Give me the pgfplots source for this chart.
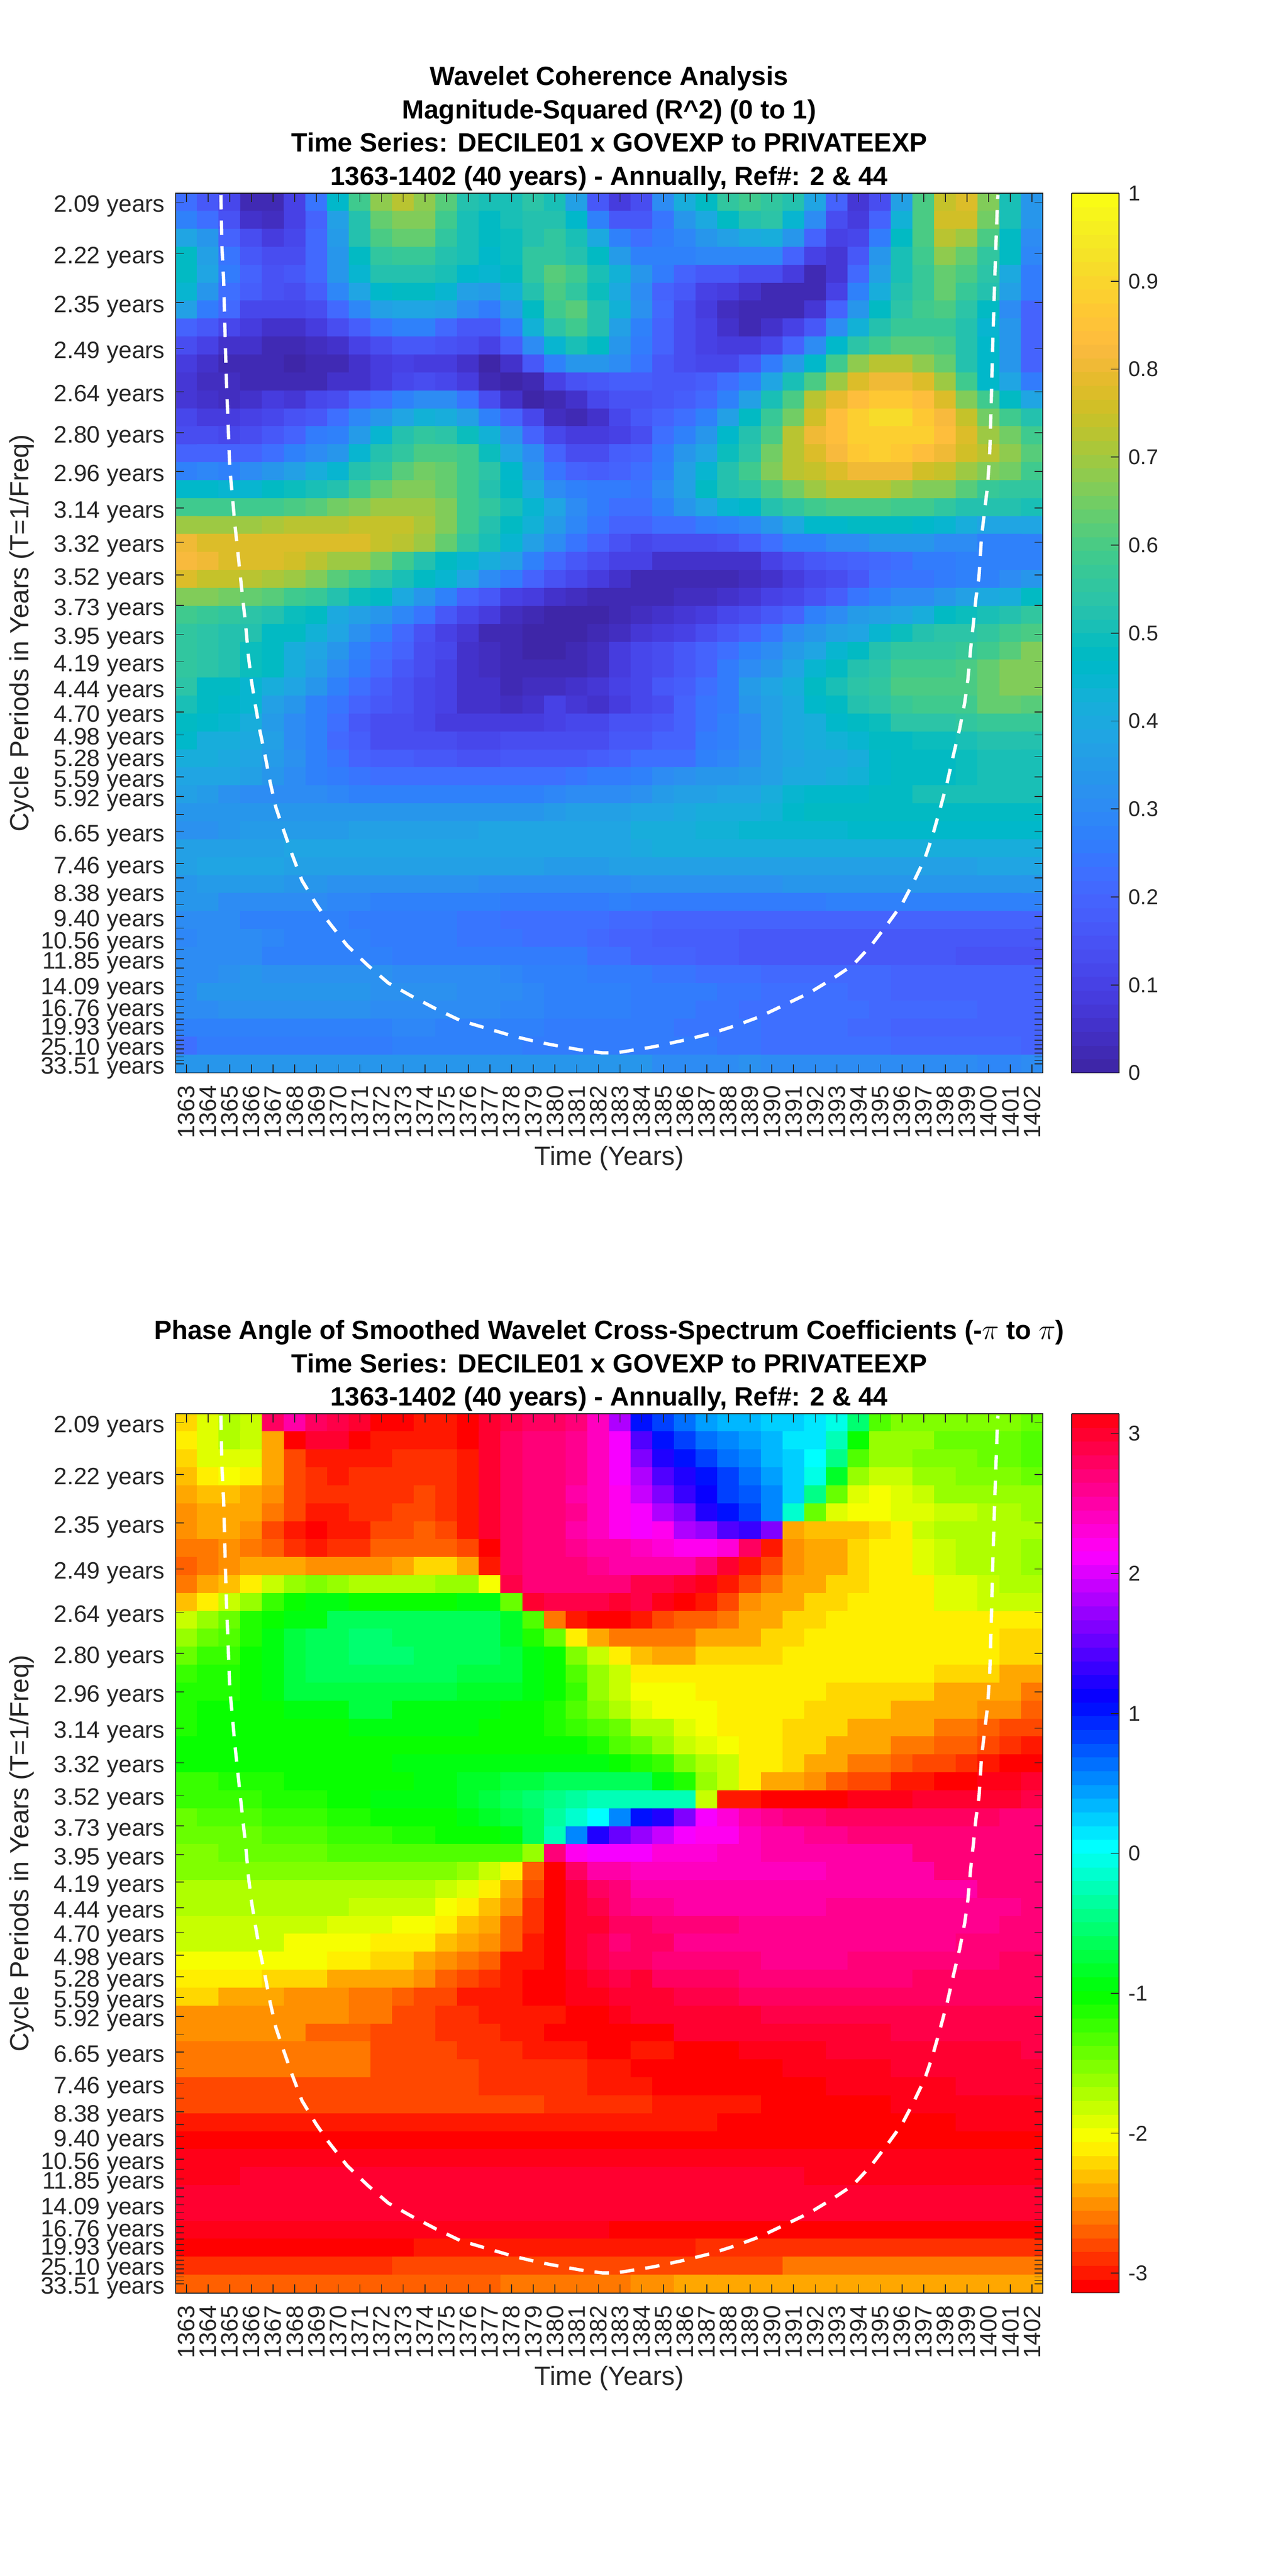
\documentclass[border=0pt]{standalone}
\usepackage{fontspec}
\setmainfont{Liberation Sans}
\usepackage{pgfplots}
\usepackage{pgfplotstable}
\pgfplotsset{compat=1.18}
\definecolor{mg}{gray}{0.15}
\pgfplotsset{colormap={matparula}{
rgb=(0.2422,0.1504,0.6603) rgb=(0.2504,0.1650,0.7076) rgb=(0.2578,0.1818,0.7511) rgb=(0.2647,0.1978,0.7952)
rgb=(0.2706,0.2147,0.8364) rgb=(0.2751,0.2342,0.8710) rgb=(0.2783,0.2559,0.8991) rgb=(0.2803,0.2782,0.9221)
rgb=(0.2813,0.3006,0.9414) rgb=(0.2810,0.3228,0.9579) rgb=(0.2795,0.3447,0.9717) rgb=(0.2760,0.3667,0.9829)
rgb=(0.2699,0.3892,0.9906) rgb=(0.2602,0.4123,0.9952) rgb=(0.2440,0.4358,0.9988) rgb=(0.2206,0.4603,0.9973)
rgb=(0.1963,0.4847,0.9892) rgb=(0.1834,0.5074,0.9798) rgb=(0.1786,0.5289,0.9682) rgb=(0.1764,0.5499,0.9520)
rgb=(0.1687,0.5703,0.9359) rgb=(0.1540,0.5902,0.9218) rgb=(0.1460,0.6091,0.9079) rgb=(0.1380,0.6276,0.8973)
rgb=(0.1248,0.6459,0.8883) rgb=(0.1113,0.6635,0.8763) rgb=(0.0952,0.6798,0.8598) rgb=(0.0689,0.6948,0.8394)
rgb=(0.0297,0.7082,0.8163) rgb=(0.0036,0.7203,0.7917) rgb=(0.0067,0.7312,0.7660) rgb=(0.0433,0.7411,0.7394)
rgb=(0.0964,0.7500,0.7120) rgb=(0.1408,0.7584,0.6842) rgb=(0.1717,0.7670,0.6554) rgb=(0.1938,0.7758,0.6251)
rgb=(0.2161,0.7843,0.5923) rgb=(0.2470,0.7918,0.5567) rgb=(0.2906,0.7973,0.5188) rgb=(0.3406,0.8008,0.4789)
rgb=(0.3909,0.8029,0.4354) rgb=(0.4456,0.8024,0.3909) rgb=(0.5044,0.7993,0.3480) rgb=(0.5616,0.7942,0.3045)
rgb=(0.6174,0.7876,0.2612) rgb=(0.6720,0.7793,0.2227) rgb=(0.7242,0.7698,0.1910) rgb=(0.7738,0.7598,0.1646)
rgb=(0.8203,0.7498,0.1535) rgb=(0.8634,0.7406,0.1596) rgb=(0.9035,0.7330,0.1774) rgb=(0.9393,0.7288,0.2100)
rgb=(0.9728,0.7298,0.2394) rgb=(0.9956,0.7434,0.2371) rgb=(0.9970,0.7659,0.2199) rgb=(0.9952,0.7861,0.1999)
rgb=(0.9892,0.8135,0.1885) rgb=(0.9786,0.8362,0.1776) rgb=(0.9676,0.8639,0.1643) rgb=(0.9610,0.8890,0.1537)
rgb=(0.9597,0.9135,0.1423) rgb=(0.9628,0.9373,0.1265) rgb=(0.9691,0.9606,0.1064) rgb=(0.9769,0.9839,0.0805)
}}
\pgfplotsset{colormap={mathsv}{
rgb=(1,0,0) rgb=(1,.094,0) rgb=(1,.188,0) rgb=(1,.281,0) rgb=(1,.375,0) rgb=(1,.469,0) rgb=(1,.563,0) rgb=(1,.656,0)
rgb=(1,.75,0) rgb=(1,.844,0) rgb=(1,.938,0) rgb=(.969,1,0) rgb=(.875,1,0) rgb=(.781,1,0) rgb=(.688,1,0) rgb=(.594,1,0)
rgb=(.5,1,0) rgb=(.406,1,0) rgb=(.312,1,0) rgb=(.219,1,0) rgb=(.125,1,0) rgb=(.031,1,0) rgb=(0,1,.0625) rgb=(0,1,.156)
rgb=(0,1,.25) rgb=(0,1,.344) rgb=(0,1,.438) rgb=(0,1,.531) rgb=(0,1,.625) rgb=(0,1,.719) rgb=(0,1,.812) rgb=(0,1,.906)
rgb=(0,1,1) rgb=(0,.906,1) rgb=(0,.812,1) rgb=(0,.719,1) rgb=(0,.625,1) rgb=(0,.531,1) rgb=(0,.438,1) rgb=(0,.344,1)
rgb=(0,.25,1) rgb=(0,.156,1) rgb=(0,.0625,1) rgb=(.031,0,1) rgb=(.125,0,1) rgb=(.219,0,1) rgb=(.312,0,1) rgb=(.406,0,1)
rgb=(.5,0,1) rgb=(.594,0,1) rgb=(.688,0,1) rgb=(.781,0,1) rgb=(.875,0,1) rgb=(.969,0,1) rgb=(1,0,.938) rgb=(1,0,.844)
rgb=(1,0,.75) rgb=(1,0,.656) rgb=(1,0,.5625) rgb=(1,0,.469) rgb=(1,0,.375) rgb=(1,0,.281) rgb=(1,0,.188) rgb=(1,0,.094)
}}
\pgfplotstableread[header=false]{
.22 .17 .11 .03 .03 .10 .24 .46 .58 .68 .72 .68 .62 .52 .50 .51 .54 .50 .37 .17 .08 .14 .30 .42 .47 .55 .58 .56 .52 .38 .20 .07 .13 .37 .60 .74 .78 .66 .51 .33
.28 .23 .15 .06 .04 .10 .19 .37 .53 .63 .66 .66 .59 .51 .48 .50 .53 .52 .46 .28 .17 .17 .24 .34 .40 .47 .52 .54 .45 .30 .14 .08 .20 .43 .60 .75 .75 .65 .50 .33
.39 .33 .19 .14 .09 .11 .21 .35 .52 .60 .63 .63 .56 .51 .47 .49 .53 .55 .50 .40 .27 .22 .26 .29 .33 .36 .40 .41 .34 .20 .10 .11 .26 .47 .60 .73 .69 .60 .47 .30
.47 .37 .24 .17 .14 .13 .21 .34 .48 .55 .57 .57 .52 .50 .46 .49 .55 .55 .53 .47 .35 .28 .27 .28 .29 .29 .29 .29 .20 .10 .07 .16 .33 .50 .58 .68 .63 .55 .47 .29
.47 .39 .26 .20 .15 .16 .21 .34 .45 .52 .53 .53 .50 .46 .44 .48 .56 .61 .58 .50 .43 .33 .25 .20 .17 .17 .14 .13 .08 .03 .07 .21 .37 .50 .57 .63 .60 .54 .40 .25
.44 .34 .23 .18 .15 .14 .18 .29 .39 .46 .47 .47 .44 .37 .35 .43 .52 .60 .55 .49 .40 .31 .20 .17 .10 .08 .05 .02 .02 .02 .10 .27 .42 .52 .57 .63 .57 .52 .36 .25
.36 .26 .21 .12 .11 .11 .13 .21 .29 .36 .38 .38 .36 .30 .26 .35 .48 .58 .62 .52 .43 .32 .21 .14 .08 .04 .03 .02 .02 .07 .19 .33 .47 .54 .59 .60 .54 .48 .31 .19
.20 .16 .12 .08 .05 .05 .09 .13 .18 .24 .27 .27 .21 .17 .16 .26 .43 .54 .58 .53 .37 .28 .20 .14 .10 .05 .03 .05 .10 .17 .30 .43 .53 .57 .57 .57 .52 .45 .33 .20
.13 .10 .06 .05 .03 .02 .04 .05 .10 .13 .16 .16 .15 .13 .10 .18 .30 .45 .51 .47 .34 .25 .20 .14 .10 .08 .08 .12 .20 .30 .46 .54 .58 .62 .62 .60 .52 .46 .33 .20
.08 .05 .03 .03 .02 .01 .03 .03 .05 .08 .10 .09 .08 .05 .01 .05 .17 .27 .33 .33 .30 .24 .17 .14 .11 .11 .17 .25 .35 .46 .58 .68 .72 .72 .68 .63 .52 .46 .33 .19
.07 .04 .04 .03 .03 .03 .03 .05 .06 .09 .12 .13 .12 .08 .03 .00 .02 .10 .15 .17 .18 .18 .17 .17 .18 .22 .27 .38 .50 .60 .70 .77 .81 .81 .77 .70 .58 .46 .38 .25
.07 .05 .04 .05 .08 .07 .11 .14 .19 .23 .27 .30 .30 .24 .14 .05 .01 .02 .05 .11 .15 .15 .16 .18 .21 .28 .36 .50 .60 .72 .79 .84 .87 .87 .84 .77 .66 .58 .48 .39
.11 .09 .08 .10 .11 .15 .17 .22 .29 .33 .39 .43 .41 .36 .28 .20 .12 .04 .03 .05 .12 .16 .19 .22 .28 .37 .47 .57 .65 .75 .84 .88 .91 .91 .87 .82 .74 .65 .58 .52
.14 .13 .12 .14 .17 .20 .25 .28 .35 .45 .52 .55 .54 .49 .43 .32 .20 .12 .08 .08 .10 .14 .22 .27 .34 .46 .52 .60 .72 .80 .84 .88 .89 .89 .88 .84 .77 .69 .65 .58
.20 .20 .19 .20 .22 .27 .30 .33 .44 .52 .56 .60 .60 .58 .49 .38 .30 .20 .14 .13 .18 .20 .25 .33 .39 .49 .54 .65 .72 .78 .82 .86 .88 .86 .84 .80 .76 .72 .68 .62
.28 .29 .28 .30 .33 .37 .41 .45 .52 .56 .62 .65 .63 .59 .54 .46 .34 .24 .19 .18 .20 .22 .27 .37 .45 .52 .58 .67 .72 .74 .78 .81 .81 .81 .76 .74 .70 .67 .65 .58
.46 .46 .45 .45 .47 .49 .50 .53 .58 .63 .66 .66 .63 .58 .53 .47 .40 .30 .27 .25 .25 .24 .30 .37 .47 .52 .54 .60 .65 .69 .72 .72 .72 .70 .67 .66 .62 .57 .55 .55
.58 .58 .58 .58 .58 .60 .62 .65 .66 .69 .69 .69 .66 .59 .55 .50 .45 .38 .30 .25 .23 .23 .28 .33 .39 .44 .46 .52 .55 .59 .60 .60 .60 .58 .58 .55 .53 .52 .52 .50
.69 .70 .70 .70 .71 .72 .73 .73 .74 .74 .74 .71 .67 .59 .53 .47 .43 .35 .29 .24 .20 .20 .22 .23 .25 .28 .29 .33 .40 .46 .46 .47 .47 .47 .46 .44 .42 .39 .39 .38
.80 .78 .78 .78 .78 .78 .78 .78 .77 .74 .73 .70 .64 .56 .50 .45 .37 .30 .24 .19 .15 .12 .13 .13 .13 .15 .18 .22 .27 .28 .30 .31 .33 .33 .33 .31 .30 .28 .28 .27
.82 .80 .78 .77 .77 .75 .72 .70 .69 .65 .58 .53 .48 .45 .42 .36 .27 .21 .16 .13 .10 .10 .06 .05 .05 .05 .06 .10 .13 .17 .18 .20 .21 .22 .25 .26 .28 .28 .28 .28
.77 .74 .74 .73 .71 .69 .66 .62 .58 .54 .50 .48 .45 .39 .30 .25 .20 .15 .12 .08 .05 .03 .03 .03 .03 .03 .04 .06 .09 .11 .13 .17 .22 .24 .24 .26 .27 .27 .31 .33
.66 .66 .65 .64 .62 .59 .57 .52 .49 .47 .40 .34 .28 .20 .16 .10 .08 .05 .04 .03 .02 .02 .02 .04 .04 .05 .07 .10 .12 .15 .18 .24 .27 .30 .30 .33 .36 .40 .42 .47
.58 .57 .56 .54 .52 .49 .47 .40 .37 .34 .29 .24 .17 .11 .08 .04 .03 .01 .01 .01 .03 .04 .05 .07 .09 .11 .13 .16 .20 .28 .31 .35 .37 .39 .42 .47 .49 .51 .53 .55
.55 .54 .53 .52 .48 .47 .43 .39 .32 .27 .21 .15 .10 .07 .03 .02 .01 .01 .01 .03 .04 .07 .08 .10 .13 .16 .19 .24 .30 .33 .36 .39 .45 .49 .53 .54 .54 .56 .58 .60
.55 .54 .53 .49 .47 .42 .38 .33 .27 .23 .19 .14 .11 .05 .04 .02 .01 .01 .02 .04 .09 .11 .13 .16 .19 .22 .27 .31 .35 .38 .44 .48 .52 .55 .55 .56 .57 .58 .61 .66
.55 .54 .53 .49 .47 .42 .37 .30 .26 .21 .17 .13 .10 .05 .04 .02 .02 .02 .03 .04 .09 .12 .14 .17 .20 .26 .30 .33 .38 .45 .48 .53 .54 .58 .58 .59 .60 .64 .67 .67
.54 .48 .47 .44 .41 .38 .34 .27 .23 .18 .15 .12 .10 .06 .05 .03 .04 .04 .06 .07 .10 .12 .16 .18 .22 .25 .35 .38 .42 .47 .50 .54 .56 .60 .60 .60 .60 .64 .67 .67
.50 .47 .46 .45 .37 .33 .28 .24 .20 .16 .15 .12 .10 .05 .05 .04 .05 .10 .07 .05 .09 .12 .13 .20 .24 .26 .33 .37 .40 .46 .47 .52 .54 .57 .58 .58 .58 .63 .63 .62
.47 .46 .44 .42 .35 .30 .27 .22 .17 .14 .13 .11 .09 .08 .08 .09 .09 .10 .11 .12 .15 .15 .17 .20 .24 .27 .30 .36 .40 .42 .46 .47 .49 .54 .54 .54 .55 .57 .57 .57
.46 .42 .42 .40 .37 .30 .27 .21 .18 .14 .13 .13 .13 .12 .12 .13 .13 .13 .13 .14 .16 .17 .19 .20 .25 .28 .30 .36 .40 .42 .43 .45 .48 .48 .49 .49 .50 .52 .52 .53
.42 .41 .40 .39 .35 .32 .27 .24 .20 .18 .18 .17 .16 .15 .15 .16 .16 .16 .17 .18 .19 .22 .22 .23 .27 .29 .32 .37 .38 .40 .40 .42 .46 .48 .48 .48 .49 .50 .51 .51
.38 .38 .38 .36 .33 .30 .28 .26 .24 .23 .22 .22 .22 .23 .22 .22 .22 .23 .24 .25 .26 .28 .30 .32 .33 .34 .35 .37 .40 .40 .41 .43 .46 .47 .48 .48 .49 .50 .50 .51
.36 .35 .32 .31 .31 .30 .30 .29 .28 .28 .27 .27 .27 .28 .28 .28 .28 .29 .30 .30 .30 .32 .35 .36 .37 .38 .38 .41 .45 .46 .46 .46 .47 .48 .50 .50 .50 .50 .50 .50
.33 .33 .33 .33 .33 .33 .33 .33 .33 .33 .33 .33 .33 .33 .34 .34 .34 .35 .36 .37 .37 .38 .39 .40 .41 .41 .42 .43 .46 .47 .47 .47 .48 .48 .48 .48 .48 .48 .48 .48
.32 .32 .34 .35 .35 .35 .35 .35 .36 .36 .36 .36 .36 .37 .38 .38 .38 .39 .39 .39 .39 .41 .42 .42 .43 .43 .44 .44 .44 .45 .45 .46 .46 .46 .46 .46 .46 .46 .46 .46
.36 .36 .37 .37 .37 .38 .38 .38 .38 .38 .38 .38 .38 .38 .38 .38 .38 .39 .39 .39 .39 .40 .41 .41 .42 .42 .42 .42 .42 .42 .42 .42 .42 .41 .41 .41 .41 .41 .41 .41
.36 .38 .38 .38 .38 .37 .36 .36 .36 .36 .36 .36 .36 .36 .36 .36 .36 .35 .35 .35 .36 .36 .36 .36 .37 .37 .37 .37 .37 .37 .37 .37 .37 .37 .37 .37 .37 .38 .38 .38
.34 .35 .35 .35 .35 .34 .33 .32 .32 .32 .32 .32 .32 .32 .31 .31 .31 .31 .31 .31 .31 .32 .32 .32 .32 .32 .32 .32 .33 .33 .33 .33 .33 .33 .33 .33 .33 .33 .33 .34
.33 .33 .30 .30 .30 .30 .30 .29 .29 .28 .28 .27 .27 .27 .27 .26 .26 .26 .26 .26 .27 .26 .26 .26 .26 .26 .26 .26 .26 .26 .27 .27 .27 .27 .27 .27 .27 .27 .28 .28
.30 .30 .30 .28 .28 .28 .27 .27 .26 .25 .25 .25 .25 .24 .24 .23 .23 .22 .22 .22 .21 .21 .20 .20 .20 .20 .20 .19 .19 .19 .19 .19 .19 .19 .19 .19 .19 .19 .19 .19
.29 .30 .30 .30 .29 .28 .28 .27 .27 .25 .25 .25 .25 .24 .24 .24 .22 .22 .22 .21 .20 .20 .18 .18 .18 .18 .17 .17 .17 .17 .17 .17 .17 .17 .17 .17 .17 .17 .17 .17
.30 .30 .30 .30 .28 .28 .28 .28 .27 .27 .26 .26 .26 .26 .25 .25 .25 .25 .25 .23 .22 .20 .19 .19 .18 .18 .17 .17 .16 .16 .16 .16 .16 .16 .16 .16 .15 .15 .15 .15
.31 .31 .32 .33 .32 .32 .32 .32 .32 .32 .31 .31 .30 .30 .30 .29 .28 .28 .28 .26 .26 .25 .24 .24 .23 .22 .22 .21 .21 .21 .21 .21 .21 .20 .20 .20 .20 .20 .20 .19
.31 .33 .33 .33 .33 .33 .33 .33 .33 .32 .32 .32 .32 .31 .30 .30 .29 .28 .27 .27 .27 .25 .25 .25 .25 .24 .24 .23 .22 .22 .22 .21 .21 .20 .20 .20 .20 .20 .20 .20
.30 .30 .32 .32 .32 .32 .32 .32 .32 .31 .31 .31 .31 .30 .30 .29 .29 .28 .28 .27 .27 .26 .25 .25 .24 .24 .23 .23 .23 .22 .22 .22 .21 .21 .21 .21 .21 .20 .20 .20
.27 .27 .28 .28 .28 .28 .28 .28 .28 .28 .29 .29 .28 .28 .27 .27 .27 .26 .26 .26 .25 .25 .25 .24 .24 .24 .24 .23 .22 .22 .22 .21 .21 .20 .20 .20 .20 .20 .20 .19
.22 .26 .26 .26 .26 .26 .26 .26 .26 .26 .27 .27 .27 .27 .27 .27 .26 .26 .26 .26 .26 .25 .25 .25 .25 .24 .24 .23 .23 .22 .22 .22 .22 .21 .21 .21 .21 .21 .21 .19
.33 .33 .33 .33 .33 .33 .33 .33 .33 .33 .33 .33 .33 .33 .33 .33 .33 .33 .33 .33 .33 .33 .31 .31 .31 .31 .32 .31 .30 .30 .30 .30 .30 .30 .30 .30 .30 .29 .29 .30
}\cohdata
\pgfplotstableread[header=false]{
-2.2 -1.95 -1.75 -1.82 2.75 2.55 2.75 2.85 3 -3.13 -3.12 -3.04 -3.04 -3.12 3 2.85 2.75 2.75 2.7 2.45 1.85 1.05 .8 .6 .42 .33 .33 .2 .2 .12 -.02 -.57 -1.3 -1.5 -1.5 -1.5 -1.5 -1.5 -1.5 -1.4
-2.09 -1.87 -1.74 -1.85 -2.44 -3.13 3.02 3.02 -3.13 -3.02 -3.02 -3.02 -3.02 -3.12 2.95 2.75 2.72 2.72 2.58 2.42 2.09 1.43 1.05 .8 .6 .52 .42 .33 .17 .1 -.2 -1.05 -1.6 -1.6 -1.6 -1.45 -1.45 -1.4 -1.4 -1.35
-2.2 -1.95 -1.95 -1.95 -2.36 -2.8 -3 -3 -3 -3 -2.9 -2.9 -2.9 -3 2.95 2.75 2.72 2.72 2.62 2.42 2.09 1.6 1.18 1.05 .8 .62 .52 .33 .2 0 -.4 -1.3 -1.65 -1.65 -1.5 -1.5 -1.5 -1.38 -1.38 -1.3
-2.33 -2.15 -2.02 -2.15 -2.36 -2.75 -2.9 -3.03 -2.9 -2.9 -2.9 -2.9 -2.9 -3 2.95 2.75 2.72 2.72 2.58 2.42 2.09 1.85 1.43 1.18 1.05 .8 .62 .42 .2 -.06 -.8 -1.65 -1.77 -1.77 -1.65 -1.65 -1.5 -1.5 -1.5 -1.42
-2.38 -2.26 -2.26 -2.36 -2.55 -2.75 -2.9 -2.9 -2.9 -2.9 -2.9 -2.8 -2.9 -3 2.95 2.75 2.72 2.72 2.55 2.38 2.2 1.95 1.65 1.33 1.12 .85 .7 .52 .25 -.47 -1.38 -1.87 -1.98 -1.87 -1.77 -1.65 -1.65 -1.65 -1.65 -1.65
-2.48 -2.36 -2.36 -2.44 -2.65 -2.8 -3 -3 -2.9 -2.9 -2.8 -2.8 -2.9 -3.03 2.95 2.75 2.72 2.72 2.58 2.38 2.2 2.09 1.85 1.58 1.25 1.05 .88 .52 -.12 -1.45 -1.95 -2.05 -2.05 -1.95 -1.87 -1.77 -1.77 -1.7 -1.7 -1.65
-2.55 -2.44 -2.44 -2.55 -2.75 -2.95 -3.05 -2.95 -2.95 -2.8 -2.8 -2.7 -2.8 -2.95 3 2.75 2.72 2.7 2.55 2.4 2.25 2.1 2.2 1.85 1.7 1.45 1.3 1.65 -2.38 -2.28 -2.28 -2.28 -2.18 -2.12 -1.8 -1.74 -1.74 -1.7 -1.7 -1.7
-2.62 -2.62 -2.55 -2.6 -2.68 -2.88 -2.95 -2.85 -2.85 -2.72 -2.66 -2.66 -2.66 -2.75 -3.13 2.75 2.7 2.65 2.6 2.55 2.5 2.4 2.3 2.2 2.2 2.3 2.75 -2.95 -2.55 -2.45 -2.36 -2.25 -2.14 -2.07 -1.95 -1.84 -1.72 -1.7 -1.68 -1.6
-2.72 -2.6 -2.55 -2.36 -2.45 -2.45 -2.55 -2.55 -2.48 -2.48 -2.36 -2.25 -2.25 -2.45 -2.95 2.75 2.72 2.65 2.72 2.62 2.55 2.55 2.5 2.5 2.68 2.95 -3.03 -2.78 -2.55 -2.45 -2.36 -2.25 -2.14 -2.07 -1.95 -1.85 -1.72 -1.68 -1.68 -1.6
-2.58 -2.44 -2.28 -2.08 -1.8 -1.65 -1.52 -1.62 -1.7 -1.7 -1.7 -1.7 -1.6 -1.6 -2.05 2.85 2.7 2.7 2.7 2.7 2.7 2.85 2.85 2.95 3.12 -3 -2.78 -2.58 -2.45 -2.36 -2.25 -2.25 -2.14 -2.07 -2.07 -1.95 -1.87 -1.78 -1.72 -1.72
-2.26 -2.08 -1.85 -1.6 -1.25 -1 -.9 -.9 -1 -1 -1 -1 -1 -.9 -.9 -1.38 2.95 2.85 2.85 2.85 2.95 2.9 3.05 -3.13 -2.95 -2.75 -2.55 -2.44 -2.36 -2.25 -2.25 -2.15 -2.15 -2.15 -2.08 -1.95 -1.95 -1.85 -1.85 -1.85
-1.85 -1.65 -1.45 -1.15 -1 -.9 -.9 -.65 -.65 -.65 -.65 -.65 -.65 -.65 -.65 -.8 -1.3 -2.58 -2.95 -3.05 -3.05 -2.95 -2.8 -2.74 -2.66 -2.58 -2.45 -2.36 -2.25 -2.25 -2.15 -2.15 -2.15 -2.15 -2.08 -2.08 -2.08 -2.08 -2.08 -2.08
-1.6 -1.45 -1.3 -1.1 -.9 -.72 -.62 -.62 -.5 -.5 -.62 -.62 -.62 -.62 -.62 -.8 -1.1 -1.38 -2.08 -2.44 -2.58 -2.58 -2.58 -2.58 -2.45 -2.36 -2.36 -2.25 -2.25 -2.15 -2.15 -2.15 -2.15 -2.15 -2.15 -2.15 -2.15 -2.15 -2.2 -2.2
-1.38 -1.25 -1.18 -1.05 -.9 -.72 -.62 -.6 -.55 -.55 -.55 -.62 -.62 -.62 -.62 -.75 -.92 -1.05 -1.5 -1.85 -2.12 -2.28 -2.36 -2.36 -2.25 -2.25 -2.25 -2.25 -2.15 -2.15 -2.15 -2.15 -2.15 -2.15 -2.15 -2.15 -2.15 -2.15 -2.25 -2.25
-1.25 -1.15 -1.15 -1.05 -.92 -.72 -.68 -.65 -.65 -.65 -.65 -.65 -.65 -.75 -.75 -.75 -.9 -1.05 -1.3 -1.65 -1.85 -2.07 -2.15 -2.15 -2.15 -2.15 -2.15 -2.15 -2.15 -2.15 -2.15 -2.15 -2.15 -2.15 -2.15 -2.25 -2.25 -2.25 -2.36 -2.36
-1.15 -1.1 -1.1 -1.05 -.95 -.75 -.72 -.72 -.72 -.72 -.72 -.72 -.72 -.8 -.85 -.85 -.9 -1.05 -1.25 -1.6 -1.78 -2 -2.05 -2.05 -2.15 -2.15 -2.15 -2.15 -2.15 -2.15 -2.25 -2.25 -2.25 -2.25 -2.25 -2.36 -2.36 -2.45 -2.45 -2.58
-1.1 -1.07 -1.07 -1.05 -1.05 -.95 -.95 -.95 -.75 -.75 -.95 -.95 -.95 -.95 -.95 -1 -1.05 -1.15 -1.3 -1.5 -1.7 -1.87 -1.97 -1.97 -2.06 -2.15 -2.15 -2.15 -2.15 -2.25 -2.25 -2.25 -2.25 -2.36 -2.36 -2.45 -2.45 -2.55 -2.55 -2.68
-1.1 -1.05 -1.05 -1.05 -1.05 -1.05 -1.02 -1.02 -.98 -.98 -.98 -.98 -.98 -.98 -1 -1.05 -1.05 -1.1 -1.2 -1.28 -1.45 -1.75 -1.75 -1.87 -1.97 -2.08 -2.15 -2.15 -2.25 -2.25 -2.25 -2.36 -2.36 -2.45 -2.45 -2.58 -2.58 -2.68 -2.78 -2.78
-1.08 -1.08 -1.05 -1.05 -1.05 -1.05 -1.05 -1.05 -1.05 -1.05 -1 -1 -1 -1 -1 -1 -1 -1 -1.05 -1.15 -1.3 -1.38 -1.6 -1.78 -1.87 -1.97 -2.07 -2.15 -2.25 -2.25 -2.36 -2.36 -2.45 -2.58 -2.58 -2.68 -2.68 -2.8 -2.88 -2.95
-1.08 -1.08 -1.08 -1.05 -1.02 -1.02 -1.02 -1.02 -1.02 -1.02 -.95 -.95 -.95 -.95 -.95 -.95 -.95 -.9 -.95 -.95 -1.05 -1.15 -1.25 -1.5 -1.75 -1.85 -2.07 -2.15 -2.25 -2.36 -2.45 -2.58 -2.58 -2.68 -2.75 -2.75 -2.88 -2.95 -3.05 -3.05
-1.25 -1.25 -1.15 -1.15 -1.15 -1.03 -1.03 -1.03 -1.03 -1.03 -1.03 -.9 -.9 -.85 -.8 -.75 -.7 -.68 -.65 -.65 -.62 -.65 -.9 -1.15 -1.6 -1.85 -2.15 -2.36 -2.45 -2.55 -2.66 -2.75 -2.8 -2.95 -2.95 -3.05 -3.13 3.05 3.05 2.95
-1.25 -1.2 -1.2 -1.2 -1.1 -1.1 -1.1 -1.03 -1.03 -.95 -.95 -.95 -.95 -.8 -.75 -.65 -.58 -.45 -.35 -.28 -.28 -.2 -.2 -.2 -1.85 -3 -3 -3.13 -3.13 -3.13 -3.13 3.07 3.07 3.07 3 3 2.95 2.95 2.95 2.88
-1.38 -1.35 -1.35 -1.35 -1.25 -1.25 -1.25 -1.15 -1.15 -1.05 -1.05 -1.05 -1.02 -.9 -.85 -.72 -.6 -.35 -.1 0 .5 1 1.2 1.58 2.1 2.28 2.48 2.58 2.7 2.7 2.78 2.78 2.78 2.78 2.78 2.78 2.78 2.78 2.68 2.68
-1.42 -1.42 -1.42 -1.38 -1.35 -1.3 -1.3 -1.25 -1.25 -1.25 -1.15 -1.15 -1.05 -1.05 -1.03 -.9 -.65 -.2 .5 1.25 1.55 1.75 1.95 2.1 2.2 2.2 2.42 2.5 2.5 2.62 2.62 2.72 2.72 2.72 2.72 2.72 2.72 2.72 2.72 2.72
-1.5 -1.5 -1.45 -1.45 -1.42 -1.42 -1.42 -1.3 -1.3 -1.3 -1.3 -1.3 -1.3 -1.3 -1.3 -1.3 -1.6 2.65 2.2 2.15 2.15 2.12 2.28 2.28 2.28 2.36 2.36 2.48 2.48 2.55 2.55 2.55 2.55 2.55 2.66 2.66 2.66 2.66 2.66 2.66
-1.55 -1.55 -1.55 -1.55 -1.55 -1.55 -1.55 -1.5 -1.5 -1.5 -1.5 -1.5 -1.5 -1.65 -1.78 -2.08 -2.66 -3.13 2.78 2.5 2.46 2.4 2.36 2.36 2.36 2.42 2.42 2.42 2.42 2.42 2.55 2.55 2.55 2.55 2.55 2.66 2.66 2.66 2.66 2.66
-1.72 -1.72 -1.72 -1.72 -1.72 -1.72 -1.72 -1.72 -1.72 -1.72 -1.72 -1.72 -1.78 -1.9 -2.08 -2.36 -2.75 -3.13 2.95 2.75 2.66 2.48 2.48 2.48 2.48 2.48 2.48 2.48 2.48 2.48 2.55 2.55 2.55 2.55 2.55 2.55 2.55 2.66 2.66 2.66
-1.72 -1.75 -1.75 -1.75 -1.75 -1.75 -1.75 -1.75 -1.8 -1.8 -1.8 -1.85 -1.97 -2.07 -2.28 -2.48 -2.85 -3.13 3 2.85 2.7 2.62 2.62 2.5 2.5 2.5 2.5 2.5 2.5 2.5 2.57 2.57 2.57 2.57 2.57 2.57 2.57 2.57 2.57 2.66
-1.78 -1.78 -1.78 -1.78 -1.78 -1.78 -1.78 -1.87 -1.87 -1.87 -1.97 -1.97 -2.08 -2.32 -2.42 -2.72 -2.9 -3.13 3.02 2.95 2.75 2.75 2.65 2.65 2.65 2.65 2.58 2.58 2.58 2.6 2.6 2.6 2.6 2.6 2.6 2.6 2.6 2.6 2.68 2.68
-1.85 -1.85 -1.85 -1.85 -1.85 -1.97 -1.97 -1.97 -1.97 -2.08 -2.08 -2.15 -2.28 -2.45 -2.55 -2.72 -2.95 -3.13 2.95 2.85 2.7 2.75 2.75 2.6 2.6 2.6 2.6 2.6 2.6 2.6 2.6 2.6 2.6 2.6 2.6 2.6 2.68 2.68 2.68 2.68
-1.97 -1.97 -2.05 -2.05 -2.05 -2.05 -2.05 -2.15 -2.15 -2.25 -2.25 -2.42 -2.48 -2.65 -2.72 -2.95 -3 -3.13 2.95 2.87 2.83 2.83 2.66 2.66 2.66 2.66 2.66 2.6 2.6 2.6 2.6 2.68 2.68 2.68 2.68 2.68 2.68 2.68 2.75 2.75
-2.15 -2.15 -2.15 -2.15 -2.25 -2.25 -2.25 -2.36 -2.45 -2.45 -2.45 -2.55 -2.68 -2.75 -2.88 -3 -3.05 -3.13 3.05 2.95 2.88 2.95 2.76 2.76 2.76 2.76 2.7 2.7 2.7 2.7 2.7 2.7 2.7 2.7 2.75 2.75 2.75 2.75 2.75 2.75
-2.25 -2.25 -2.4 -2.4 -2.4 -2.48 -2.48 -2.48 -2.58 -2.58 -2.68 -2.8 -2.8 -2.95 -2.95 -3 -3.05 -3.13 3.1 3.05 3 3 3 2.88 2.88 2.88 2.76 2.76 2.76 2.76 2.76 2.76 2.76 2.76 2.76 2.76 2.76 2.76 2.83 2.83
-2.48 -2.48 -2.48 -2.48 -2.48 -2.55 -2.55 -2.55 -2.65 -2.65 -2.75 -2.75 -2.85 -2.85 -2.95 -2.95 -3 -3 -3.13 -3.13 3.1 3.03 3.03 2.95 2.95 2.95 2.95 2.88 2.88 2.88 2.88 2.88 2.88 2.88 2.88 2.88 2.88 2.88 2.88 2.88
-2.55 -2.55 -2.55 -2.55 -2.55 -2.55 -2.68 -2.68 -2.68 -2.75 -2.75 -2.75 -2.85 -2.85 -2.85 -2.95 -2.95 -3.05 -3.05 -3.05 -3.13 -3.13 -3.13 3 3 3 3 2.95 2.95 2.95 2.95 2.95 2.95 2.88 2.88 2.88 2.88 2.88 2.88 2.88
-2.58 -2.58 -2.58 -2.65 -2.65 -2.65 -2.65 -2.65 -2.65 -2.75 -2.75 -2.75 -2.75 -2.88 -2.88 -2.88 -2.95 -2.95 -2.95 -3.05 -3.05 -3 -3 -3.13 -3.13 -3.13 3.05 3.05 3.05 3.05 2.97 2.97 2.97 2.97 2.97 2.97 2.97 2.97 2.97 2.9
-2.65 -2.65 -2.65 -2.65 -2.65 -2.65 -2.65 -2.65 -2.65 -2.75 -2.75 -2.75 -2.75 -2.75 -2.85 -2.88 -2.88 -2.88 -2.88 -2.95 -2.95 -3.05 -3.05 -3.05 -3.05 -3.13 -3.13 -3.13 3.05 3.05 3.05 3.05 3.05 2.95 2.95 2.95 2.95 2.95 2.95 2.95
-2.75 -2.75 -2.75 -2.75 -2.75 -2.75 -2.75 -2.75 -2.75 -2.75 -2.75 -2.75 -2.75 -2.75 -2.85 -2.85 -2.85 -2.85 -2.85 -2.95 -2.95 -2.95 -3.05 -3.05 -3.05 -3.05 -3.13 -3.13 -3.13 -3.13 3.08 3.08 3.08 3.08 3.08 3.08 3 3 3 3
-2.8 -2.8 -2.8 -2.8 -2.8 -2.8 -2.8 -2.8 -2.8 -2.8 -2.8 -2.8 -2.8 -2.8 -2.8 -2.8 -2.8 -2.92 -2.92 -2.92 -2.92 -2.92 -3 -3 -3 -3 -3 -3.13 -3.13 -3.13 -3.13 -3.13 -3.13 3.08 3.08 3.08 3.08 3.08 3.08 3.08
-2.95 -2.95 -2.95 -2.95 -2.95 -2.95 -2.95 -2.95 -2.95 -2.95 -2.95 -2.95 -2.95 -2.95 -2.95 -2.95 -2.95 -3.02 -3.02 -3.02 -3.02 -3.02 -3.02 -3.02 -3.02 -3.13 -3.13 -3.13 -3.13 -3.13 -3.13 -3.13 -3.13 -3.13 -3.13 -3.13 3.08 3.08 3.08 3.08
-3.05 -3.05 -3.05 -3.05 -3.05 -3.05 -3.05 -3.05 -3.05 -3.05 -3.05 -3.05 -3.13 -3.13 -3.13 -3.13 -3.13 -3.13 -3.13 -3.13 -3.13 -3.13 -3.13 -3.13 -3.13 -3.13 -3.13 -3.13 -3.13 -3.13 -3.13 -3.13 -3.13 -3.13 -3.13 -3.13 -3.13 -3.13 -3.13 -3.13
3.07 3.07 3.07 3.07 3.07 3.07 3.07 3.07 3.07 3.07 3.07 3.07 3.07 3.07 3.07 3.07 3.07 3.07 3.07 3.07 3.07 3.07 3.07 3.07 3.07 3.07 3.07 3.07 3.07 3.07 3.07 3.07 3.07 3.07 3.07 3.07 3.07 3.07 3.07 3.07
3.07 3.07 3.07 2.98 2.98 2.98 2.98 2.98 2.98 2.98 2.98 2.98 2.98 2.98 2.98 2.98 2.98 2.98 2.98 2.98 2.98 2.98 2.98 2.98 2.98 2.98 2.98 2.98 2.98 3.05 3.05 3.05 3.05 3.05 3.05 3.05 3.05 3.05 3.05 3.05
2.95 2.95 2.95 2.95 2.95 2.95 2.95 2.95 2.95 2.95 2.95 2.95 2.95 2.95 2.95 2.95 2.95 2.95 2.95 2.95 2.95 2.95 2.95 2.95 2.95 2.95 2.95 2.95 2.95 2.95 2.95 2.95 2.95 2.95 3.03 3.03 3.03 3.03 3.03 3.03
2.95 2.95 2.95 2.95 2.95 2.95 2.95 2.95 2.95 2.95 2.95 2.95 2.95 2.95 2.95 2.95 2.95 2.95 2.95 2.95 2.95 2.95 3.02 3.02 3.02 3.02 3.02 3.02 3.02 3.02 3.02 3.02 3.02 3.02 3.02 3.02 3.02 3.02 3.02 3.02
3.07 3.07 3.07 3.07 3.07 3.07 3.07 3.07 3.07 3.07 3.07 3.07 3.07 3.07 3.07 3.07 3.07 3.07 3.07 3.07 -3.13 -3.13 -3.13 -3.13 -3.13 -3.13 -3.13 -3.13 -3.13 -3.13 -3.13 -3.13 -3.13 -3.13 -3.13 -3.13 -3.13 -3.13 -3.13 -3.13
-3.13 -3.13 -3.13 -3.13 -3.13 -3.13 -3.13 -3.13 -3.13 -3.13 -3.13 -3.03 -3.03 -3.03 -3.03 -3.03 -3.03 -3.03 -3.03 -3.03 -3.03 -3.03 -3.03 -3.03 -2.93 -2.93 -2.93 -2.93 -2.93 -2.93 -2.93 -2.93 -2.93 -2.93 -2.93 -2.93 -2.93 -2.93 -2.93 -2.93
-2.93 -2.93 -2.93 -2.93 -2.93 -2.93 -2.93 -2.93 -2.93 -2.93 -2.83 -2.83 -2.83 -2.83 -2.83 -2.83 -2.83 -2.83 -2.83 -2.83 -2.75 -2.75 -2.75 -2.75 -2.75 -2.75 -2.75 -2.75 -2.65 -2.65 -2.65 -2.65 -2.65 -2.65 -2.65 -2.65 -2.65 -2.65 -2.65 -2.65
-2.67 -2.67 -2.67 -2.67 -2.67 -2.67 -2.67 -2.67 -2.67 -2.67 -2.67 -2.67 -2.67 -2.67 -2.67 -2.58 -2.58 -2.58 -2.58 -2.58 -2.58 -2.55 -2.55 -2.45 -2.45 -2.45 -2.45 -2.45 -2.45 -2.45 -2.45 -2.45 -2.45 -2.36 -2.36 -2.36 -2.36 -2.36 -2.36 -2.36
}\phadata
\newcommand\buildcoords[2]{%
 \gdef#2{}%
 \pgfplotsforeachungrouped \rr in {0,...,48}{%
  \pgfplotsforeachungrouped \cc in {0,...,39}{%
   \pgfplotstablegetelem{\rr}{\cc}\of#1%
   \pgfmathtruncatemacro\xx{\cc+1}\pgfmathtruncatemacro\yy{\rr+1}%
   \xdef#2{#2 (\xx,\yy) [\pgfplotsretval]}%
 }}}
\newcommand\heat[1]{\addplot[matrix plot*, mesh/cols=40, point meta=explicit, forget plot] coordinates {#1};}
\newcommand\coi{\addplot[white, line width=2pt, dash pattern=on 8.75pt off 6.75pt, no marks] coordinates {
(2.59,.6)(2.64,3.45)(2.72,5.35)(2.78,8.2)(2.85,11.06)(2.93,13.5)(3.0,15.8)(3.12,17.34)(3.23,18.86)(3.38,20.57)
(3.57,22.75)(3.73,24.5)(3.86,26.26)(3.99,27.58)(4.18,29.0)(4.39,30.44)(4.62,31.75)(4.86,33.29)(5.13,34.72)(5.47,35.93)
(5.85,37.25)(6.33,38.78)(6.99,40.1)(7.56,41.09)(8.41,42.4)(9.36,43.5)(10.31,44.49)(11.35,45.2)(12.49,45.92)(13.63,46.58)
(14.86,47.02)(16.1,47.46)(17.24,47.79)(18.37,48.05)(19.51,48.29)(20.18,48.38)(20.84,48.38)(21.6,48.23)(22.52,48.05)(23.95,47.68)
(25.18,47.31)(26.32,46.87)(27.46,46.36)(28.6,45.7)(29.73,45.04)(30.78,44.27)(31.73,43.5)(32.58,42.4)(33.34,41.2)(34.0,40.1)
(34.57,38.78)(35.05,37.57)(35.39,36.37)(35.75,34.83)(36.09,33.29)(36.38,31.75)(36.66,30.33)(36.89,28.9)(37.04,27.58)(37.17,25.82)
(37.29,24.5)(37.42,22.97)(37.55,21.87)(37.67,19.62)(37.8,18.29)(37.95,16.77)(38.05,14.86)(38.12,12.0)(38.18,9.16)(38.25,6.3)
(38.33,3.45)(38.41,.79)(38.43,.6)};}
\pgfplotsset{
 wavelet/.style={
  scale only axis, width=526.3pt, anchor=south west,
  xmin=.5,xmax=40.5,ymin=.5,ymax=49.5,y dir=reverse,
  enlargelimits=false, axis on top, clip=true,
  tick align=inside, xtick pos=both, ytick pos=both,
  xticklabel pos=bottom, yticklabel pos=left,
  major tick length=5.25pt,
  axis line style={mg,line width=.6pt},
  tick style={mg,line width=.5pt},
  colormap access=piecewise constant,
  xtick={1,...,40},
  xticklabels={1363,1364,1365,1366,1367,1368,1369,1370,1371,1372,1373,1374,1375,1376,1377,1378,1379,1380,1381,1382,1383,1384,1385,1386,1387,1388,1389,1390,1391,1392,1393,1394,1395,1396,1397,1398,1399,1400,1401,1402},
  ytick={1,3.874,6.586,9.146,11.562,13.843,15.996,18.028,19.946,21.757,23.465,25.078,26.6,28.037,29.393,30.673,31.881,33.02,34.098,35.114,36.073,36.978,37.833,38.639,39.4,40.118,40.797,41.437,42.04,42.611,43.149,43.657,44.137,44.589,45.016,45.42,45.8,46.159,46.498,46.818,47.12,47.406,47.675,47.928,48.168,48.394,48.608,48.809,49},
  yticklabels={2.09 years,2.22 years,2.35 years,2.49 years,2.64 years,2.80 years,2.96 years,3.14 years,3.32 years,3.52 years,3.73 years,3.95 years,4.19 years,4.44 years,4.70 years,4.98 years,5.28 years,5.59 years,5.92 years,{},6.65 years,{},7.46 years,{},8.38 years,{},9.40 years,{},10.56 years,{},11.85 years,{},{},14.09 years,{},{},16.76 years,{},{},19.93 years,{},{},{},25.10 years,{},{},{},{},33.51 years},
  xticklabel style={yshift=-7.5pt,rotate=90,anchor=east,inner sep=0pt,font=\fontsize{14.4}{14.4}\selectfont,text=mg},
  yticklabel style={xshift=-6.25pt,yshift=-2.5pt,anchor=east,inner sep=0pt,font=\fontsize{14.4}{14.4}\selectfont,text=mg},
  xlabel={Time (Years)}, ylabel={Cycle Periods in Years (T=1/Freq)},
  every axis x label/.style={at={(axis description cs:.5,-.0969)},anchor=center,font=\fontsize{16}{16}\selectfont,text=mg},
  every axis y label/.style={at={(axis description cs:-.177,.5)},rotate=90,anchor=center,font=\fontsize{16}{16}\selectfont,text=mg},
  title style={at={(axis description cs:.5,1)},anchor=south,align=center,inner sep=0pt,yshift=-4.6pt,font=\fontsize{16}{20.15}\selectfont\bfseries,text=black},
 },
 cbar/.style={
  colorbar sampled,
  colorbar style={samples=65, scale only axis, width=28.75pt, height=#1,
   at={(parent axis.north east)}, anchor=north west, xshift=9pt,
   colormap access=piecewise constant,
   tick align=inside, ytick pos=right, yticklabel pos=right, major tick length=5.25pt,
   axis line style={mg,line width=.6pt}, tick style={mg,line width=.5pt},
   yticklabel style={inner sep=0pt,xshift=5.5pt,anchor=west,font=\fontsize{13}{13}\selectfont,text=mg},
   xtick=\empty},
 },
}
\begin{document}
\buildcoords{\cohdata}{\coordsA}%
\buildcoords{\phadata}{\coordsB}%
\begin{tikzpicture}
\path[use as bounding box] (0,0) rectangle (781.25pt,1563pt);
\begin{axis}[wavelet, at={(106.5pt,912pt)}, height=533.75pt,
  colormap name=matparula, point meta min=0, point meta max=1,
  cbar=533.75pt,
  colorbar style={ymin=0,ymax=1,ytick={0,.1,.2,.3,.4,.5,.6,.7,.8,.9,1},yticklabels={0,0.1,0.2,0.3,0.4,0.5,0.6,0.7,0.8,0.9,1}},
  title={Wavelet Coherence Analysis\\Magnitude-Squared (R\textasciicircum 2) (0 to 1)\\Time Series: DECILE01 x GOVEXP to PRIVATEEXP\\1363-1402 (40 years) - Annually, Ref\#: 2 \& 44}]
\expandafter\heat\expandafter{\coordsA}
\coi
\end{axis}
\begin{axis}[wavelet, at={(106.5pt,171.75pt)}, height=533.4pt,
  colormap name=mathsv, point meta min=-3.14159, point meta max=3.14159,
  cbar=533.4pt,
  colorbar style={ymin=-3.14159,ymax=3.14159,ytick={-3,-2,-1,0,1,2,3},yticklabels={-3,-2,-1,0,1,2,3}},
  title={Phase Angle of Smoothed Wavelet Cross-Spectrum Coefficients (-$\pi$ to $\pi$)\\Time Series: DECILE01 x GOVEXP to PRIVATEEXP\\1363-1402 (40 years) - Annually, Ref\#: 2 \& 44}]
\expandafter\heat\expandafter{\coordsB}
\coi
\end{axis}
\end{tikzpicture}
\end{document}
